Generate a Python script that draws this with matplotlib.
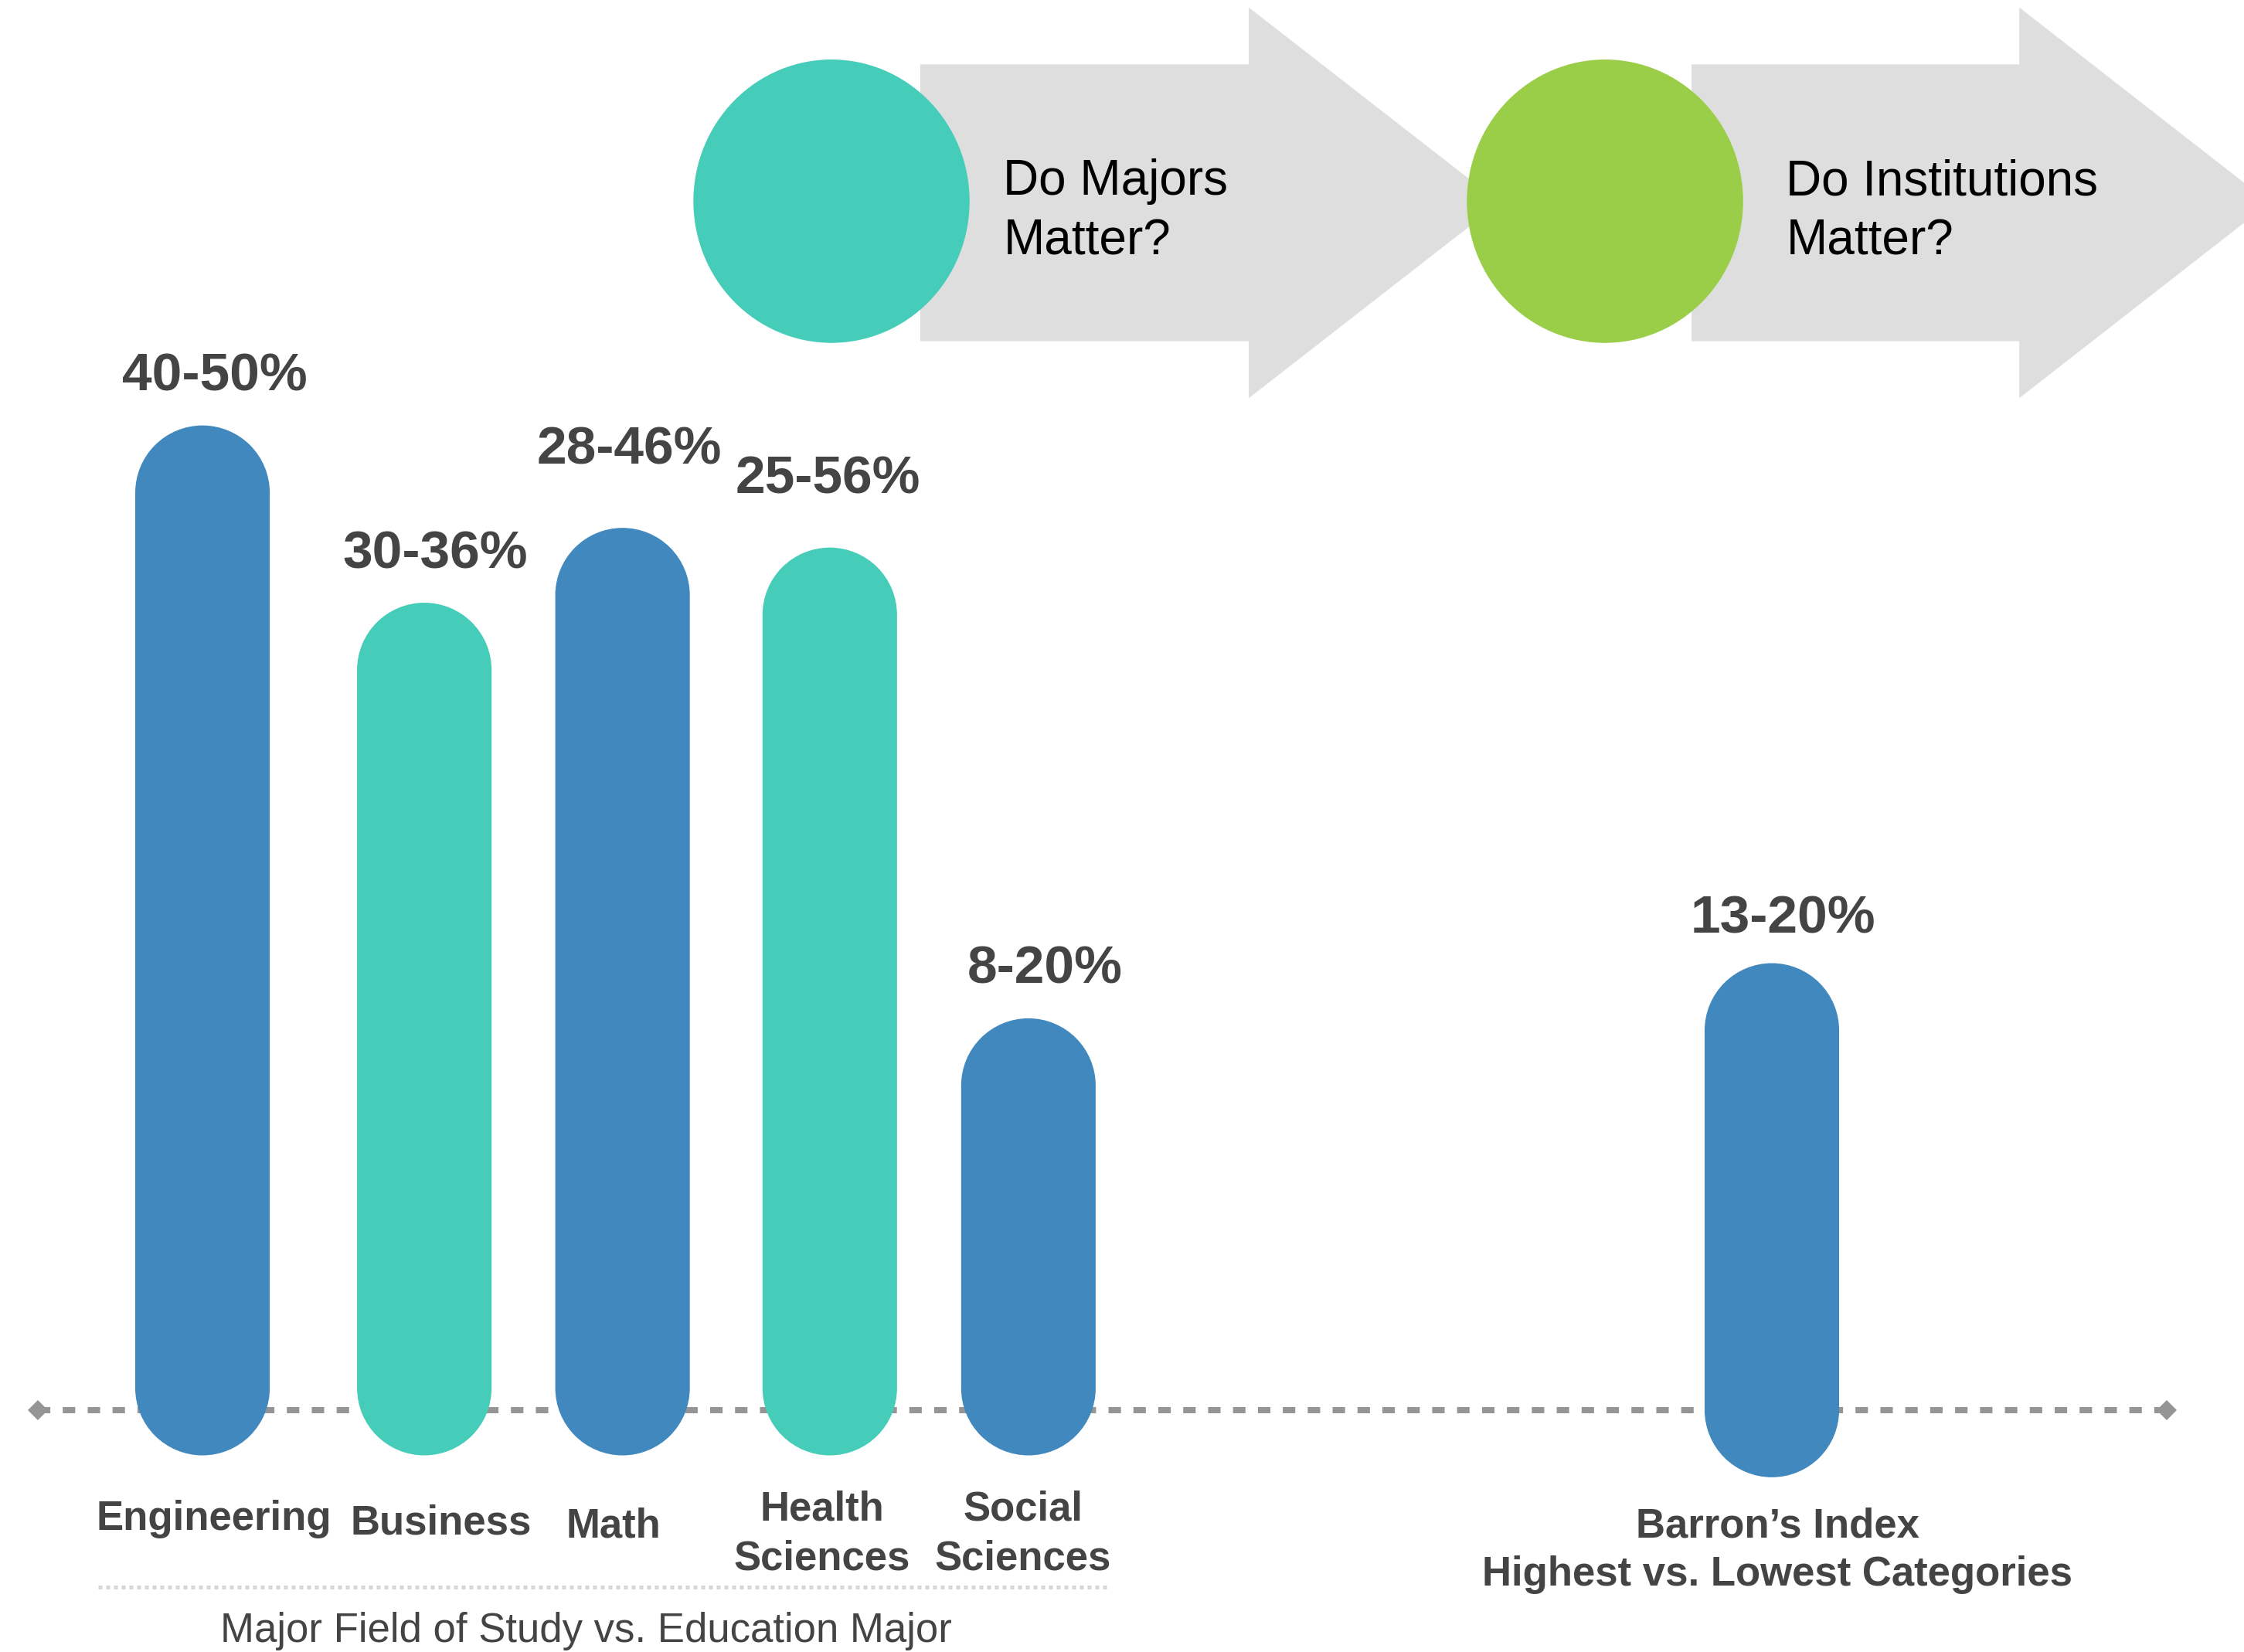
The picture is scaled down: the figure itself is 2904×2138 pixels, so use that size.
import matplotlib.pyplot as plt
import numpy as np
from matplotlib.patches import Ellipse, PathPatch, Polygon
from matplotlib.path import Path

plt.rcParams["font.family"] = ["Liberation Sans", "DejaVu Sans"]

# Majors compared against education majors
majors = ["Engineering", "Business", "Math", "Health\nSciences", "Social\nSciences"]
major_low = [40, 30, 28, 25, 8]
major_high = [50, 36, 46, 56, 20]
major_bar = [50.0, 41.0, 44.8, 43.8, 19.9]

# Institutions: highest vs. lowest Barron's categories
barron_name = "Barron’s Index\nHighest vs. Lowest Categories"
barron_low = 13
barron_high = 20
barron_bar = 22.7

BLUE = "#4088BD"
TEAL = "#46CDB9"
GREEN = "#9ACD48"
ARROW = "#DEDEDE"
DARK = "#444444"
RULE = "#959595"

# canvas: x runs 0..W in layout units, y is in bar units with the
# baseline at 0; SCALE layout units make one bar unit
W, H = 1568.0, 1154.4
BASE_ROW = 985.5
SCALE = 13.764


def row(r):
    """Layout row (measured down from the top) -> bar units."""
    return (BASE_ROW - r) / SCALE


def stadium(ax, xc, top, bottom, width, color):
    # one closed outline: upper half circle, lower half circle
    rx = width / 2
    ry = rx / SCALE
    upper = Path.arc(0, 180)
    lower = Path.arc(180, 360)
    pts = np.vstack([
        np.column_stack([xc + rx * upper.vertices[:, 0], top - ry + ry * upper.vertices[:, 1]]),
        np.column_stack([xc + rx * lower.vertices[:, 0], bottom + ry + ry * lower.vertices[:, 1]]),
        [[xc + rx, top - ry]],
    ])
    codes = list(upper.codes) + [Path.LINETO] + list(lower.codes[1:]) + [Path.CLOSEPOLY]
    ax.add_patch(PathPatch(Path(pts, codes), facecolor=color, edgecolor="none", zorder=3))


def chevron(ax, x0, x1, tip, yc, body, head, color, z):
    pts = [(x0, yc + body), (x1, yc + body), (x1, yc + head), (tip, yc),
           (x1, yc - head), (x1, yc - body), (x0, yc - body)]
    ax.add_patch(Polygon(pts, closed=True, facecolor=color, edgecolor="none", zorder=z))


fig = plt.figure(figsize=(14.52, 10.69), dpi=200)
ax = fig.add_axes([0, 0, 1, 1])
ax.set_xlim(0, W)
ax.set_ylim(row(H), row(0))
ax.axis("off")

# header: two arrows with a dot at the start of each
head_y = row(141.7)
body_h = 96.7 / SCALE
head_h = 136.5 / SCALE
header = [
    (581.0, 643.0, 872.6, 1048.0, TEAL, ["Do Majors", "Matter?"], 701.0),
    (1121.5, 1182.0, 1411.0, 1586.0, GREEN, ["Do Institutions", "Matter?"], 1248.0),
]
for i, (cx, x0, x1, tip, color, lines, tx) in enumerate(header):
    chevron(ax, x0, x1, tip, head_y, body_h, head_h, ARROW, 1 + 2 * i)
    ax.add_patch(Ellipse((cx, row(140.6)), 193.0, 198.0 / SCALE,
                         facecolor=color, edgecolor="none", zorder=2 + 2 * i))
    for k, line in enumerate(lines):
        ax.text(tx, row(136.2 + 41.5 * k), line, fontsize=23, color="black",
                ha="left", va="baseline", zorder=6)

# dashed baseline with diamond ends
ax.plot([26.5, 1514.0], [0, 0], color=RULE, lw=2.9, dashes=(2, 2),
        dash_capstyle="butt", zorder=2)
ax.plot([26.5, 1514.0], [0, 0], linestyle="none", marker="D", markersize=6.5,
        color=RULE, markeredgewidth=0, zorder=2)

bar_x = [141.5, 296.5, 435.0, 579.8, 718.6]
bar_w = 94.0
bar_colors = [BLUE, TEAL, BLUE, TEAL, BLUE]
label_x = [150.2, 304.0, 439.7, 578.6, 730.0]
label_gap = [24.6, 24.2, 44.9, 37.8, 24.5]
name_x = [149.5, 308.0, 428.4, 574.2, 714.8]
name_row = [1069.3, 1072.0, 1074.0, 1062.5, 1062.5]
line_step = 34.5

for i, name in enumerate(majors):
    stadium(ax, bar_x[i], major_bar[i], -31.5 / SCALE, bar_w, bar_colors[i])
    ax.text(label_x[i], major_bar[i] + label_gap[i] / SCALE,
            f"{major_low[i]}-{major_high[i]}%", fontsize=25, fontweight="bold",
            color=DARK, ha="center", va="baseline", zorder=4)
    for k, line in enumerate(name.split("\n")):
        ax.text(name_x[i], row(name_row[i] + line_step * k), line, fontsize=19,
                fontweight="bold", color=DARK, ha="center", va="baseline")

# group caption for the majors
ax.plot([68.5, 775.7], [row(1108.9)] * 2, color="#D6D6D6", lw=1.8,
        dashes=(1, 1), dash_capstyle="butt")
ax.text(409.5, row(1147.3), "Major Field of Study vs. Education Major",
        fontsize=19, color=DARK, ha="center", va="baseline")

# Barron's bar
stadium(ax, 1238.1, barron_bar, -46.8 / SCALE, bar_w, BLUE)
ax.text(1246.0, barron_bar + 20.9 / SCALE, f"{barron_low}-{barron_high}%",
        fontsize=25, fontweight="bold", color=DARK, ha="center", va="baseline", zorder=4)
for k, line in enumerate(barron_name.split("\n")):
    ax.text(1242.0, row(1074.0 + 33.8 * k), line, fontsize=19, fontweight="bold",
            color=DARK, ha="center", va="baseline")

fig.savefig("out.png", dpi=200, facecolor="white")
